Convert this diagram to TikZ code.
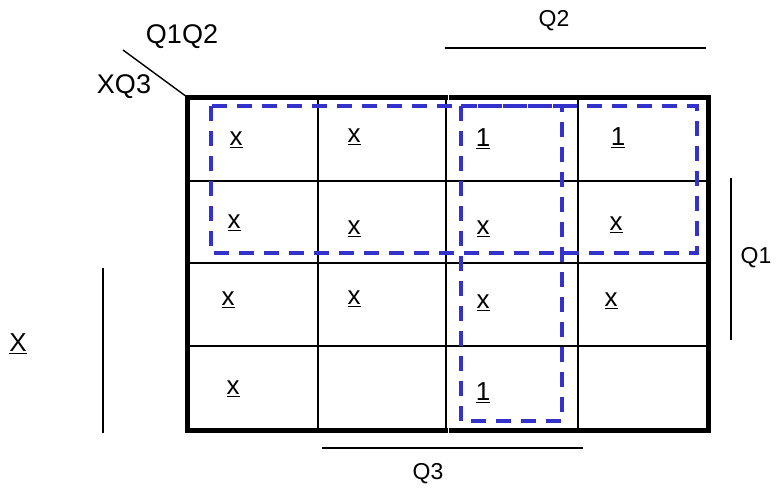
\documentclass[tikz,border=0pt]{standalone}
\usepackage{fontspec}
\setmainfont{Liberation Sans}
\usetikzlibrary{positioning}

\begin{document}
\begin{tikzpicture}[
  x=1pt, y=-1pt,
  frame/.style={line width=5pt, line cap=rect},
  kgrid/.style={line width=1.8pt},
  grp/.style={draw=kblue, line width=3.4pt, dash pattern=on 15pt off 10pt},
  bar/.style={line width=1.4pt},
  cell/.style={font=\fontsize{26}{28}\selectfont, inner sep=0pt},
  lbl/.style={font=\fontsize{23}{26}\selectfont, inner sep=0pt},
  big/.style={font=\fontsize{27}{30}\selectfont, inner sep=0pt}
]
  \definecolor{kblue}{RGB}{51,51,204}
  \useasboundingbox (0,0) rectangle (776,491);

  %--- Grid ---
  \foreach \y in {181, 263, 346}{
    \draw[kgrid] (187,\y) -- (710,\y);
  }
  \foreach \x in {318, 446, 578}{
    \draw[kgrid] (\x,97) -- (\x,430);
  }
  % Frame (two halves)
  \draw[frame] (445,97) -- (187,97) -- (187,430) -- (445,430);
  \draw[frame] (451,97) -- (708,97) -- (708,430) -- (451,430);

  %--- Cell entries ---
  \foreach \n/\x/\y/\t in {11/236/140/x, 12/354/137/x, 13/483/139/1, 14/618/138/1,
                           21/234/223/x, 22/354/229/x, 23/483/229/x, 24/616/225/x,
                           31/228/300/x, 32/354/299/x, 33/483/303/x, 34/611/301/x,
                           41/233/389/x, 43/483/393/1}{
    \node[cell] (c\n) at (\x,\y) {\underline{\t}};
  }

  %--- Groups ---
  \draw[grp] (211,106) rectangle (697,253);
  \draw[grp] (461,106) rectangle (562,421);

  %--- Variable labels ---
  \node[big] (q1q2) at (182,37) {Q1Q2};
  \node[big] (xq3) at (124,87) {XQ3};
  \coordinate (corner) at (187,97);
  \coordinate (diag) at (123,50);
  \draw[bar] (diag) -- (corner);

  \node[lbl] (q2) at (554,21) {Q2};
  \coordinate (q2a) at (445,48);
  \coordinate (q2b) at (706,48);
  \draw[bar] (q2a) -- (q2b);

  \node[lbl] (q1) at (756,258) {Q1};
  \coordinate (q1a) at (731,178);
  \coordinate (q1b) at (731,340);
  \draw[bar] (q1a) -- (q1b);

  \node[lbl] (q3) at (428,474) {Q3};
  \coordinate (q3a) at (322,448);
  \coordinate (q3b) at (583,448);
  \draw[bar] (q3a) -- (q3b);

  \node[cell] (xv) at (18,344) {\underline{X}};
  \coordinate (xa) at (103,268);
  \coordinate (xb) at (103,433);
  \draw[bar] (xa) -- (xb);
\end{tikzpicture}
\end{document}
